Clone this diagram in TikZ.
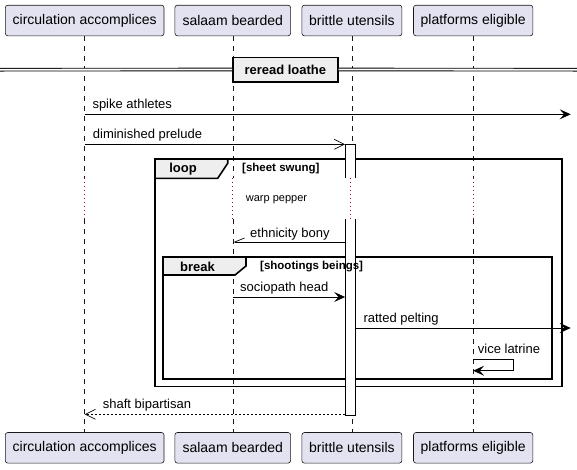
\documentclass[tikz,border=0pt]{standalone}
\usepackage{fontspec}
\setmainfont{Liberation Sans}
\usetikzlibrary{positioning,arrows.meta}
\definecolor{partfill}{HTML}{E2E2F0}
\definecolor{edgecol}{HTML}{181818}
\definecolor{tabfill}{HTML}{EEEEEE}
\definecolor{delaycol}{HTML}{A80036}
\tikzset{
  part/.style={rectangle, rounded corners=2.5pt, draw=edgecol, line width=0.6pt, fill=partfill, minimum height=30.6pt, inner sep=0pt, text centered, font=\fontsize{14}{16}\selectfont},
  life/.style={draw=edgecol, line width=0.5pt, dash pattern=on 5pt off 5pt},
  pause/.style={draw=delaycol, line width=0.8pt, dash pattern=on 1pt off 3pt},
  msg/.style={line width=0.9pt, -{Stealth[length=11pt,width=10pt,inset=4.5pt]}},
  call/.style={line width=0.7pt, -{Straight Barb[length=10pt,width=10pt]}},
  back/.style={line width=0.7pt, dash pattern=on 2pt off 2pt, -{Straight Barb[length=10pt,width=10pt]}},
  half/.style={line width=0.7pt, -{Straight Barb[right,length=10pt,width=8pt]}},
  lbl/.style={anchor=base west, inner sep=0pt, font=\fontsize{13}{15}\selectfont},
  frame/.style={draw=black, line width=1.6pt},
  tab/.style={draw=black, line width=1.6pt, fill=tabfill},
  tablbl/.style={inner sep=0pt, font=\fontsize{13}{15}\selectfont\bfseries},
  guard/.style={anchor=west, inner sep=0pt, font=\fontsize{11.5}{13}\selectfont\bfseries},
  note/.style={anchor=west, inner sep=0pt, font=\fontsize{11}{13}\selectfont},
  divbox/.style={rectangle, draw=black, line width=1.6pt, fill=tabfill, minimum width=104.7pt, minimum height=24.4pt, inner sep=0pt, font=\fontsize{13}{15}\selectfont\bfseries},
  actbar/.style={rectangle, fill=white, minimum width=10.4pt, inner sep=0pt},
  node distance=10.5pt
}

\begin{document}
\begin{tikzpicture}[x=1pt,y=-1pt]
  \useasboundingbox (0,0) rectangle (577,469);

  % participants, top and bottom
  \node[part, minimum width=158.7pt] (Tcirc) at (84.65,20.5) {circulation accomplices};
  \node[part, minimum width=115.7pt, right=10.3pt of Tcirc] (Tsalaam) {salaam bearded};
  \node[part, minimum width=100pt, right=10.7pt of Tsalaam] (Tbrittle) {brittle utensils};
  \node[part, minimum width=119.3pt, right=11pt of Tbrittle] (Tplat) {platforms eligible};

  \node[part, minimum width=158.7pt] (Bcirc) at (84.65,447.8) {circulation accomplices};
  \node[part, minimum width=115.7pt, right=10.3pt of Bcirc] (Bsalaam) {salaam bearded};
  \node[part, minimum width=100pt, right=10.7pt of Bsalaam] (Bbrittle) {brittle utensils};
  \node[part, minimum width=119.3pt, right=11pt of Bbrittle] (Bplat) {platforms eligible};

  % rows
  \coordinate (delayTop) at (0,178);
  \coordinate (delayBot) at (0,219);
  \coordinate (rowSpike) at (0,114.3);
  \coordinate (rowPrelude) at (0,144.3);
  \coordinate (rowBony) at (0,242);
  \coordinate (rowHead) at (0,297);
  \coordinate (rowPelting) at (0,328);
  \coordinate (viceTurn) at (513.3,359);
  \coordinate (viceBack) at (0,370.7);
  \coordinate (rowShaft) at (0,414.3);
  \coordinate (rimSpike) at (570.7,114.3);
  \coordinate (rimPelting) at (570.7,328);

  % lifelines
  \foreach \p in {circ,salaam,brittle,plat} {
    \draw[life] (T\p) -- (T\p |- delayTop);
    \draw[pause] (T\p |- delayTop) -- (T\p |- delayBot);
    \draw[life] (T\p |- delayBot) -- (B\p);
  }

  % divider
  \node[divbox] (div) at (285.35,69.5) {reread loathe};
  \coordinate (divL) at (0,69.7);
  \coordinate (divR) at (577,69.7);
  \draw[line width=0.9pt, double, double distance=1.8pt] (divL) -- (div.west);
  \draw[line width=0.9pt, double, double distance=1.8pt] (div.east) -- (divR);

  % loop frame
  \coordinate (loopNW) at (155,159);
  \coordinate (loopSE) at (562,386.5);
  \draw[frame] (loopNW) rectangle (loopSE);
  \draw[tab] (loopNW) -- ++(72.7,0) -- ++(0,4.3) -- ++(-10,15) -- ++(-62.7,0) -- cycle;

  % break frame
  \coordinate (breakNW) at (163,257);
  \coordinate (breakSE) at (551.7,379);
  \draw[frame] (breakNW) rectangle (breakSE);
  \draw[tab] (breakNW) -- ++(83,0) -- ++(0,9) -- ++(-11,9) -- ++(-72,0) -- cycle;

  % activation
  \node[actbar, minimum height=270.7pt] (act) at (350.5,279.65) {};
  \draw[line width=0.9pt] (act.west |- delayTop) -- (act.north west) -- (act.north east) -- (act.east |- delayTop);
  \draw[line width=0.9pt] (act.west |- delayBot) -- (act.south west) -- (act.south east) -- (act.east |- delayBot);
  \draw[pause] (act.center |- delayTop) -- (act.center |- delayBot);

  % messages
  \draw[msg] (Tcirc |- rowSpike) -- (rimSpike);
  \node[lbl] (lSpike) at (92.3,108.8) {spike athletes};

  \draw[call] (Tcirc |- rowPrelude) -- (act.west |- rowPrelude);
  \node[lbl] (lPrelude) at (92.7,138.8) {diminished prelude};

  \node[note] (warp) at (245.7,199.3) {warp pepper};

  \draw[half] (act.west |- rowBony) -- (Tsalaam |- rowBony);
  \node[lbl] (lBony) at (250,237) {ethnicity bony};

  \draw[msg] (Tsalaam |- rowHead) -- (act.west |- rowHead);
  \node[lbl] (lHead) at (240,291.5) {sociopath head};

  \draw[msg] (act.east |- rowPelting) -- (rimPelting);
  \node[lbl] (lPelting) at (363.3,322.5) {ratted pelting};

  \draw[msg] (Tplat |- viceTurn) -- (viceTurn) |- (Tplat |- viceBack);
  \node[lbl] (lVice) at (477.7,353.5) {vice latrine};

  \draw[back] (act.west |- rowShaft) -- (Tcirc |- rowShaft);
  \node[lbl] (lShaft) at (102.7,408.8) {shaft bipartisan};

  % frame labels
  \node[tablbl] (loopTag) at (183,169) {loop};
  \node[guard] (loopGuard) at (242,168.5) {[sheet swung]};
  \node[tablbl] (breakTag) at (197.5,266.5) {break};
  \node[guard] (breakGuard) at (260,266.5) {[shootings beings]};
\end{tikzpicture}
\end{document}
